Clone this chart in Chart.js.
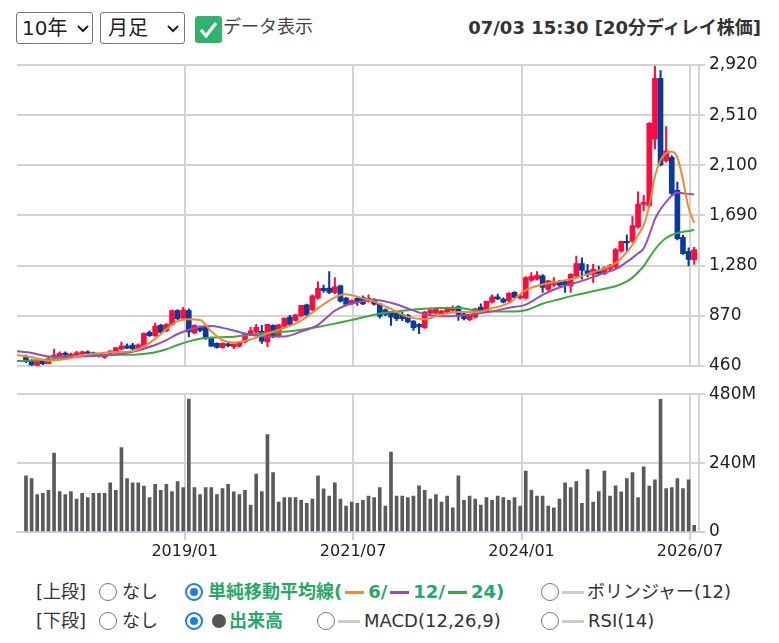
<!DOCTYPE html>
<html lang="ja">
<head>
<meta charset="utf-8">
<script src="https://cdn.jsdelivr.net/npm/chart.js@4.4.1/dist/chart.umd.min.js"></script>
<style>
  html, body { margin: 0; padding: 0; background: #fff; }
  body { width: 779px; height: 643px; position: relative; overflow: hidden;
         font-family: "DejaVu Sans", "Noto Sans CJK JP", sans-serif; color: #333; }
  .abs { position: absolute; white-space: nowrap; }
  .sel { position: absolute; top: 12px; height: 32px; box-sizing: border-box;
         border: 1px solid #767676; border-radius: 3px; background: #fff; }
  .sel span { position: absolute; top: 0; line-height: 30px; font-size: 20px; color: #222; }
  .sel svg { position: absolute; top: 12px; }
  .radio { position: absolute; width: 18px; height: 18px; box-sizing: border-box;
           border: 1.5px solid #767676; border-radius: 50%; background: #fff; }
  .radio.on { border: 2px solid #1b7cf2; }
  .radio.on::after { content: ""; position: absolute; left: 3px; top: 3px; width: 8px; height: 8px;
                     border-radius: 50%; background: #1b7cf2; }
  .txt { position: absolute; font-size: 18px; line-height: 22px; color: #333; white-space: nowrap; }
  .grn { color: #26a86b; font-weight: bold; }
  .dash { display: inline-block; width: 19px; height: 3px; vertical-align: middle; margin: 0 4px 2px 3px; }
  canvas { position: absolute; left: 0; }
</style>
</head>
<body>
<div class="sel" style="left:16px;width:77px;">
  <span style="left:5px;">10年</span>
  <svg style="left:60px" width="12" height="8" viewBox="0 0 12 8"><polyline points="1,1 6,6 11,1" fill="none" stroke="#222" stroke-width="2"/></svg>
</div>
<div class="sel" style="left:100px;width:85px;">
  <span style="left:7px;">月足</span>
  <svg style="left:66px" width="12" height="8" viewBox="0 0 12 8"><polyline points="1,1 6,6 11,1" fill="none" stroke="#222" stroke-width="2"/></svg>
</div>
<div class="abs" style="left:195px;top:16px;width:27px;height:27px;background:#2fb36d;border-radius:3px;">
  <svg width="27" height="27" viewBox="0 0 27 27"><polyline points="6,14 11,20 21,7" fill="none" stroke="#fff" stroke-width="3.2"/></svg>
</div>
<div class="txt" style="left:223px;top:16px;font-size:18px;color:#444;">データ表示</div>
<div class="txt" style="right:18px;top:17px;font-size:18px;font-weight:bold;color:#333;">07/03 15:30 [20分ディレイ株価]</div>

<canvas id="price" width="779" height="330" style="top:50px"></canvas>
<canvas id="volume" width="779" height="190" style="top:380px"></canvas>

<!-- 上段 -->
<div class="txt" style="left:36px;top:581px;">[上段]</div>
<div class="radio" style="left:99px;top:583px;"></div>
<div class="txt" style="left:122px;top:581px;">なし</div>
<div class="radio on" style="left:185px;top:583px;"></div>
<div class="txt grn" style="left:208px;top:581px;">単純移動平均線(<span class="dash" style="background:#f5882a"></span>6/<span class="dash" style="background:#9a4db4"></span>12/<span class="dash" style="background:#3aab3c"></span>24)</div>
<div class="radio" style="left:541px;top:583px;"></div>
<div class="txt" style="left:562px;top:581px;"><span class="dash" style="background:#cccccc;width:22px;margin:0 3px 2px 0"></span>ボリンジャー(12)</div>

<!-- 下段 -->
<div class="txt" style="left:36px;top:610px;">[下段]</div>
<div class="radio" style="left:99px;top:612px;"></div>
<div class="txt" style="left:122px;top:610px;">なし</div>
<div class="radio on" style="left:185px;top:612px;"></div>
<div class="abs" style="left:212px;top:614px;width:14px;height:14px;border-radius:50%;background:#555;"></div>
<div class="txt grn" style="left:229px;top:610px;">出来高</div>
<div class="radio" style="left:317px;top:612px;"></div>
<div class="txt" style="left:338px;top:610px;"><span class="dash" style="background:#cccccc;width:22px;margin:0 4px 2px 0"></span>MACD(12,26,9)</div>
<div class="radio" style="left:541px;top:612px;"></div>
<div class="txt" style="left:562px;top:610px;"><span class="dash" style="background:#cccccc;width:22px;margin:0 4px 2px 0"></span>RSI(14)</div>

<script>
// 月足 2016/08 〜 2026/07 (index 0 = 2016/08)
const opens = [529,502,462,500,478,529,540,564,543,546,556,575,567,540,529,562,575,597,624,629,
  602,621,734,707,791,745,799,912,850,912,729,777,783,688,643,608,640,616,621,656,
  723,735,742,656,791,700,783,858,831,869,958,920,1014,1093,1095,1060,1114,1014,971,1012,
  1020,988,1000,966,918,899,890,880,872,826,799,772,890,890,885,899,912,944,885,837,
  858,940,912,980,1025,1006,993,1060,1015,1014,1160,1168,1195,1084,1122,1146,1149,1114,1195,1295,
  1236,1208,1241,1214,1250,1268,1397,1478,1478,1594,1780,1769,2313,2812,2138,2165,1896,1510,1397,1327];
const highs = [548,510,500,505,529,594,575,575,565,578,580,582,572,560,545,585,610,653,640,643,
  640,730,745,810,800,805,915,920,938,925,795,785,790,695,648,648,650,640,660,730,
  777,799,791,800,795,800,850,872,880,955,965,1040,1147,1120,1230,1182,1120,1020,1000,1020,
  1033,1041,1010,970,925,905,900,898,880,830,805,905,930,935,915,940,950,950,890,880,
  930,966,990,1041,1047,1015,1058,1068,1040,1190,1222,1230,1205,1160,1181,1160,1160,1215,1357,1343,
  1289,1289,1276,1270,1290,1420,1480,1532,1680,1882,1855,2450,2912,2874,2416,2180,1963,1530,1424,1429];
const lows = [486,462,458,470,475,525,535,535,538,540,550,555,535,530,520,558,570,592,600,594,
  598,615,700,700,725,740,790,835,845,697,720,740,675,618,605,604,615,600,615,650,
  718,722,643,616,690,695,778,791,825,860,870,910,1005,1060,1050,1050,980,950,960,953,
  960,980,955,850,870,791,830,830,810,750,723,765,880,880,878,890,905,831,835,830,
  850,900,905,975,1000,975,985,1015,1005,1005,1150,1160,1060,1075,1110,1110,1060,1060,1185,1168,
  1187,1141,1205,1205,1235,1255,1390,1397,1470,1585,1726,1760,2233,2095,2125,1860,1490,1370,1276,1289];
const closes = [494,467,494,478,516,548,562,546,556,567,575,562,540,552,540,581,608,624,605,599,
  632,726,707,785,734,799,912,845,917,737,791,750,683,621,610,643,625,637,653,723,
  745,775,661,799,697,796,850,799,877,955,877,1033,1093,1075,1060,1106,988,961,993,980,
  966,1012,965,866,880,858,845,845,818,772,777,899,915,926,907,934,939,880,845,872,
  926,910,987,1025,1006,980,1052,1020,1030,1181,1192,1200,1101,1155,1146,1120,1122,1208,1295,1241,
  1208,1249,1214,1262,1280,1411,1478,1464,1607,1782,1796,2443,2812,2103,2219,1869,1499,1378,1330,1411];
// 出来高（百万株）
const volumes = [196,186,130,135,145,275,141,130,141,115,135,120,135,135,135,171,145,294,186,171,
  171,160,120,166,145,166,141,176,155,463,155,130,155,155,130,151,166,140,130,145,
  94,202,141,339,207,104,120,120,120,110,100,115,196,150,125,171,115,90,104,100,
  110,125,120,155,90,278,125,125,120,125,161,145,115,130,104,125,84,196,110,125,
  115,94,120,110,125,120,110,120,90,212,145,125,125,90,84,115,171,155,176,100,
  217,104,141,212,125,161,140,186,207,120,227,160,182,462,151,155,186,151,182,23];

// 単純移動平均線（読み取り値）
const maMonths = [-2,1,4,7,10,13,16,19,21,23,25,27,29,31,33,35,37,40,43,46,49,52,55,57,59,62,65,68,71,74,
  77,80,83,86,89,92,95,98,101,103,105,107,108,109,110,111,112,113,114,115,116,117,118,119];
const ma6 = [550,530,502,515,545,562,572,580,620,680,760,825,840,835,740,670,650,675,725,770,
  830,930,1020,1045,1025,985,925,860,840,880,900,898,930,975,
  1078,1125,1150,1180,1225,1255,1300,1390,1450,1530,1610,1770,2010,2140,2200,2210,2165,1980,1750,1630];
const ma12 = [582,565,537,535,538,542,555,575,600,630,670,720,755,780,785,770,748,712,700,700,
  740,795,910,955,980,1000,975,930,882,866,868,885,905,935,
  960,1040,1100,1140,1185,1220,1250,1310,1343,1380,1420,1530,1660,1740,1800,1850,1877,1872,1866,1860];
const ma24 = [498,503,512,525,538,548,550,550,557,570,595,630,660,682,690,694,698,715,728,738,
  755,778,805,825,845,878,900,915,926,932,933,912,905,905,
  915,968,1005,1040,1070,1090,1110,1150,1181,1225,1276,1345,1411,1465,1505,1530,1545,1555,1563,1572];

const priceTicks = [460, 870, 1280, 1690, 2100, 2510, 2920];
const volumeTicks = [0, 240, 480];
const xTickMonths = [29, 59, 89, 119];
const xTickLabels = ["2019/01", "2021/07", "2024/01", "2026/07"];

const X_MIN = -1.6, X_MAX = 119.85, GRID_SHIFT = 0.75;
const UP = "#ff0a3c", DOWN = "#0a3a9e", GRID = "#d4d4d4", AXIS = "#c8d2e6";
const FAMILY = "'DejaVu Sans', 'Noto Sans CJK JP', sans-serif";
const X_FONT = { family: FAMILY, size: 16 };
const Y_FONT = { family: FAMILY, size: 17 };

const up = closes.map((c, i) => c >= opens[i]);
const candleColors = up.map(u => (u ? UP : DOWN));
const maLine = (vals, color) => ({
  type: "line",
  data: maMonths.map((m, i) => ({ x: m, y: vals[i] })),
  borderColor: color,
  borderWidth: 2,
  pointRadius: 0,
  cubicInterpolationMode: "monotone",
  fill: false,
});

const xGridTicks = (s) => { s.ticks = xTickMonths.map(m => ({ value: m - GRID_SHIFT })); };

new Chart(document.getElementById("price"), {
  type: "bar",
  data: {
    datasets: [
      maLine(ma6, "#f5882a"),
      maLine(ma12, "#9a4db4"),
      maLine(ma24, "#3aab3c"),
      {
        data: opens.map((o, i) => ({ x: i, y: [o, closes[i]] })),
        backgroundColor: candleColors,
        barThickness: 5,
        grouped: false,
        minBarLength: 1,
      },
      {
        data: lows.map((l, i) => ({ x: i, y: [l, highs[i]] })),
        backgroundColor: candleColors,
        barThickness: 1.4,
        grouped: false,
      },
    ],
  },
  options: {
    responsive: false,
    animation: false,
    layout: { padding: { left: 17, top: 15, bottom: 10.7, right: 0 } },
    plugins: { legend: { display: false }, tooltip: { enabled: false } },
    scales: {
      x: {
        type: "linear", min: X_MIN, max: X_MAX, offset: false,
        grid: { color: GRID, lineWidth: 2, drawTicks: false, offset: false },
        border: { display: false },
        ticks: { display: false },
        afterBuildTicks: xGridTicks,
        afterFit: (s) => { s.height = 0; },
      },
      y: {
        position: "right", min: 460, max: 2920,
        grid: { color: GRID, lineWidth: 2, tickLength: 6 },
        border: { display: true, color: GRID, width: 2 },
        ticks: { padding: 4, color: "#222", font: Y_FONT, callback: (v) => v.toLocaleString("en-US") },
        afterBuildTicks: (s) => { s.ticks = priceTicks.map(v => ({ value: v })); },
        afterFit: (s) => { s.width = 80; },
      },
    },
  },
});

new Chart(document.getElementById("volume"), {
  type: "bar",
  data: {
    datasets: [{
      data: volumes.map((v, i) => ({ x: i, y: v })),
      backgroundColor: "#5a5a5a",
      barThickness: 3,
      grouped: false,
    }],
  },
  options: {
    responsive: false,
    animation: false,
    layout: { padding: { left: 17, top: 10.7, bottom: 0, right: 0 } },
    plugins: { legend: { display: false }, tooltip: { enabled: false } },
    scales: {
      x: {
        type: "linear", min: X_MIN, max: X_MAX, offset: false,
        grid: { color: GRID, lineWidth: 2, tickLength: 8, tickColor: AXIS, offset: false },
        border: { display: true, color: AXIS, width: 2 },
        ticks: { color: "#222", font: X_FONT, padding: 2, maxRotation: 0, autoSkip: false,
                 callback: (v, i) => xTickLabels[i] },
        afterBuildTicks: xGridTicks,
        afterFit: (s) => { s.height = 38; },
      },
      y: {
        position: "right", min: 0, max: 480,
        grid: { color: (c) => (c.tick && c.tick.value === 0 ? AXIS : GRID), lineWidth: 2, tickLength: 6 },
        border: { display: true, color: GRID, width: 2 },
        ticks: { padding: 4, color: "#222", font: Y_FONT, callback: (v) => (v === 0 ? "0" : v + "M") },
        afterBuildTicks: (s) => { s.ticks = volumeTicks.map(v => ({ value: v })); },
        afterFit: (s) => { s.width = 80; },
      },
    },
  },
});
</script>
</body>
</html>
